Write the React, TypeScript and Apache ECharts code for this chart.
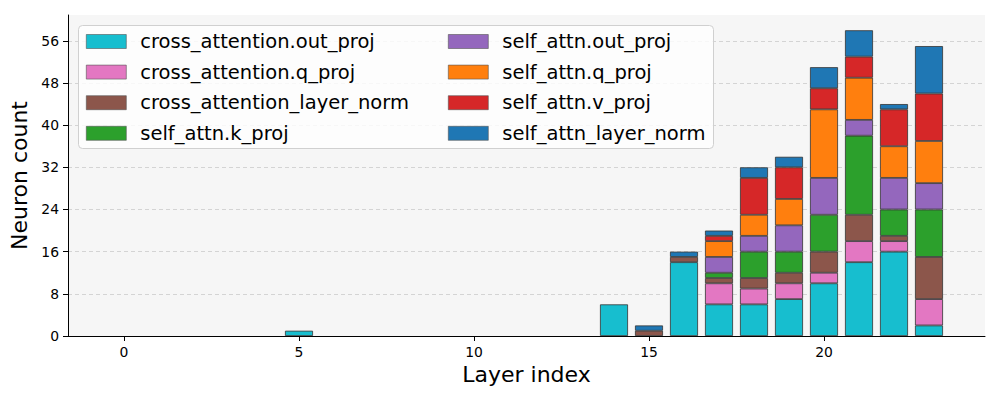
import React, { useEffect, useRef } from "react";
import * as echarts from "echarts";

const layers = [5, 14, 15, 16, 17, 18, 19, 20, 21, 22, 23];
const seriesNames = [
  "cross_attention.out_proj",
  "cross_attention.q_proj",
  "cross_attention_layer_norm",
  "self_attn.k_proj",
  "self_attn.out_proj",
  "self_attn.q_proj",
  "self_attn.v_proj",
  "self_attn_layer_norm",
];
const colors = ["#17becf", "#e377c2", "#8c564b", "#2ca02c", "#9467bd", "#ff7f0e", "#d62728", "#1f77b4"];

// values per series, aligned with `layers`
const crossOutProj = [1, 6, 0, 14, 6, 6, 7, 10, 14, 16, 2];
const crossQProj = [0, 0, 0, 0, 4, 3, 3, 2, 4, 2, 5];
const crossLayerNorm = [0, 0, 1, 1, 1, 2, 2, 4, 5, 1, 8];
const selfKProj = [0, 0, 0, 0, 1, 5, 4, 7, 15, 5, 9];
const selfOutProj = [0, 0, 0, 0, 3, 3, 5, 7, 3, 6, 5];
const selfQProj = [0, 0, 0, 0, 3, 4, 5, 13, 8, 6, 8];
const selfVProj = [0, 0, 0, 0, 1, 7, 6, 4, 4, 7, 9];
const selfLayerNorm = [0, 0, 1, 1, 1, 2, 2, 4, 5, 1, 9];

const allValues = [crossOutProj, crossQProj, crossLayerNorm, selfKProj, selfOutProj, selfQProj, selfVProj, selfLayerNorm];
const xTicks = [0, 5, 10, 15, 20];
const yTicks = [0, 8, 16, 24, 32, 40, 48, 56];

export default function App() {
  const ref = useRef<HTMLDivElement>(null);
  useEffect(() => {
    if (!ref.current) return;
    const chart = echarts.init(ref.current, null, { renderer: "svg" });
    const font = "DejaVu Sans";
    const series = seriesNames.map((name, i) => ({
      name,
      type: "bar",
      stack: "total",
      barWidth: 28,
      dimensions: ["count", "layer"],
      encode: { x: 1, y: 0 },
      data: layers.map((l, j) => {
        const v = allValues[i][j];
        return v > 0
          ? { value: [v, l] }
          : { value: [0, l], itemStyle: { borderWidth: 0, opacity: 0 } };
      }),
      itemStyle: { color: colors[i], borderColor: "#333333", borderWidth: 0.8 },
    }));
    const legendCommon = {
      orient: "vertical",
      itemWidth: 40,
      itemHeight: 14,
      itemGap: 10.6,
      icon: "rect",
      itemStyle: { borderColor: "#555555", borderWidth: 0.6 },
      textStyle: { fontFamily: font, fontSize: 19.5, color: "#000", padding: [0, 0, 0, 9] },
      padding: 0,
    };
    chart.setOption({
      animation: false,
      textStyle: { fontFamily: font },
      grid: {
        left: 68,
        top: 15,
        right: 15,
        bottom: 64,
        show: true,
        backgroundColor: "#f6f6f6",
        borderWidth: 0,
      },
      graphic: [
        {
          type: "rect",
          shape: { x: 78.5, y: 25.5, width: 635, height: 123, r: 4 },
          style: { fill: "rgba(255,255,255,0.8)", stroke: "#d0d0d0", lineWidth: 1 },
          z: 5,
        },
      ],
      legend: [
        { ...legendCommon, left: 86, top: 31.5, data: seriesNames.slice(0, 4), z: 10 },
        { ...legendCommon, left: 448, top: 31.5, data: seriesNames.slice(4), z: 10 },
      ],
      xAxis: {
        type: "value",
        min: -1.6,
        max: 24.6,
        name: "Layer index",
        nameLocation: "middle",
        nameGap: 26,
        nameTextStyle: { fontSize: 22, color: "#000", fontFamily: font },
        axisLine: { show: true, onZero: false, lineStyle: { color: "#000", width: 1 } },
        axisTick: { show: true, length: 5, lineStyle: { color: "#000" }, customValues: xTicks },
        axisLabel: { fontSize: 13.9, color: "#000", margin: 9, customValues: xTicks, fontFamily: font },
        splitLine: { show: false },
      },
      yAxis: {
        type: "value",
        min: 0,
        max: 60.9,
        name: "Neuron count",
        nameLocation: "middle",
        nameGap: 35,
        nameTextStyle: { fontSize: 22, color: "#000", fontFamily: font },
        axisLine: { show: true, onZero: false, lineStyle: { color: "#000", width: 1 } },
        axisTick: { show: true, length: 5, lineStyle: { color: "#000" }, customValues: yTicks },
        axisLabel: { fontSize: 13.9, color: "#000", margin: 9, customValues: yTicks, fontFamily: font },
        splitLine: { show: true, lineStyle: { color: "#cccccc", type: [4, 3], width: 0.8 } },
      },
      series,
    });
    return () => chart.dispose();
  }, []);
  return (
    <div
      ref={ref}
      style={{ position: "fixed", left: 0, top: 0, width: 1000, height: 400, background: "#fff" }}
    />
  );
}
